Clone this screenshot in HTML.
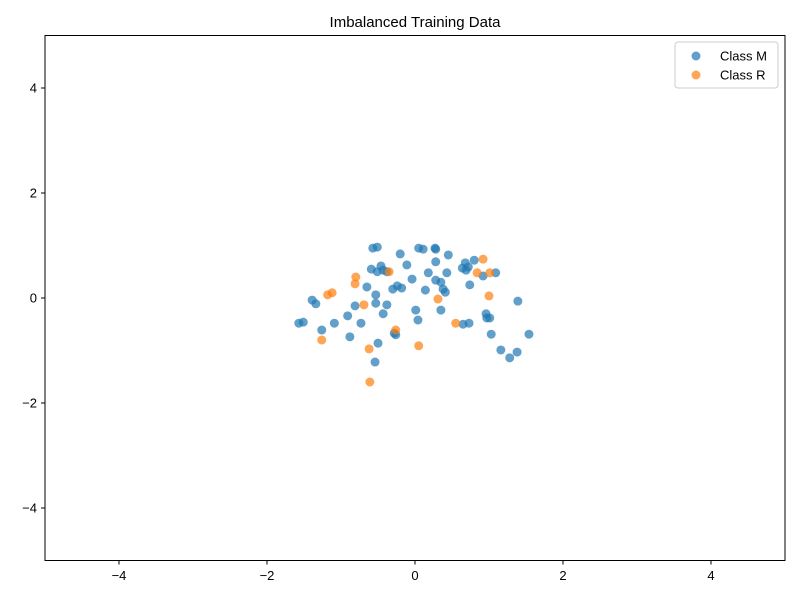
<!DOCTYPE html>
<html><head><meta charset="utf-8"><style>
body{margin:0;background:#fff;font-family:"Liberation Sans",sans-serif}
</style></head><body>
<svg id="chart" width="800" height="600" xmlns="http://www.w3.org/2000/svg">
<rect width="800" height="600" fill="#fff"/>
<text x="415" y="27" text-anchor="middle" font-size="15">Imbalanced Training Data</text>
<g id="marks"></g>
<rect x="45" y="35.5" width="740" height="525" fill="none" stroke="#000" stroke-width="1"/>
<g id="axes" font-size="13"></g>
<g>
<rect x="675" y="42" width="103" height="46" fill="#fff" fill-opacity="0.8" stroke="#ccc" rx="3"/>
<circle cx="696" cy="56" r="4.5" fill="#1f77b4" fill-opacity="0.7"/>
<text x="720" y="60.5" font-size="13">Class M</text>
<circle cx="696" cy="75" r="4.5" fill="#ff7f0e" fill-opacity="0.7"/>
<text x="720" y="79.5" font-size="13">Class R</text>
</g>
</svg>
<script>
const classMx=[-0.57,-0.51,-0.20,-0.11,-0.46,-0.43,-0.59,-0.38,-0.51,-0.04,-0.65,-0.24,-0.18,-0.30,-0.53,-0.81,-0.53,-0.38,-0.73,-0.88,-0.54,-0.43,-0.28,0.01,0.04,0.14,0.05,0.11,0.27,0.28,0.45,0.28,0.18,0.43,0.28,0.35,0.38,0.41,0.64,0.68,0.72,0.69,0.80,0.92,1.09,0.74,0.96,0.97,1.01,0.73,0.65,1.03,1.54,1.39,1.16,1.28,1.38,-1.57,-1.51,-1.39,-1.34,-1.26,-1.09,-0.91,-0.50,0.35,-0.26];
const classMy=[0.95,0.97,0.84,0.63,0.61,0.53,0.55,0.50,0.50,0.36,0.21,0.23,0.19,0.17,0.06,-0.15,-0.10,-0.13,-0.48,-0.74,-1.22,-0.30,-0.67,-0.23,-0.42,0.15,0.95,0.93,0.95,0.93,0.82,0.69,0.48,0.48,0.34,0.30,0.17,0.11,0.57,0.67,0.59,0.53,0.72,0.42,0.48,0.25,-0.30,-0.38,-0.38,-0.48,-0.50,-0.69,-0.69,-0.06,-0.99,-1.14,-1.03,-0.48,-0.46,-0.04,-0.11,-0.61,-0.48,-0.34,-0.86,-0.23,-0.70];
const classRx=[-0.80,-0.81,-1.18,-1.12,-1.26,-0.69,-0.35,-0.26,-0.62,-0.61,0.05,0.31,0.55,0.84,0.92,1.01,1.00];
const classRy=[0.40,0.27,0.06,0.10,-0.80,-0.13,0.50,-0.61,-0.97,-1.60,-0.91,-0.02,-0.48,0.48,0.74,0.48,0.04];
const xTicks=[-4,-2,0,2,4];
const yTicks=[-4,-2,0,2,4];
const NS="http://www.w3.org/2000/svg";
function sx(v){return 45+(v+5)/10*740;}
function sy(v){return 560.5-(v+5)/10*525;}
const marks=document.getElementById('marks');
function drawSeries(xs,ys,color,name){
  for(let i=0;i<xs.length;i++){
    const c=document.createElementNS(NS,'circle');
    c.setAttribute('cx',sx(xs[i]));c.setAttribute('cy',sy(ys[i]));c.setAttribute('r',4.5);
    c.setAttribute('fill',color);c.setAttribute('fill-opacity',0.7);
    
    
    marks.appendChild(c);
  }
}
drawSeries(classMx,classMy,'#1f77b4','class-m-point');
drawSeries(classRx,classRy,'#ff7f0e','class-r-point');
const axes=document.getElementById('axes');
xTicks.forEach(t=>{
  const l=document.createElementNS(NS,'line');
  l.setAttribute('x1',sx(t));l.setAttribute('x2',sx(t));l.setAttribute('y1',560.5);l.setAttribute('y2',564.5);l.setAttribute('stroke','#000');
  
  
  axes.appendChild(l);
  const tx=document.createElementNS(NS,'text');
  tx.setAttribute('x',sx(t));tx.setAttribute('y',580);tx.setAttribute('text-anchor','middle');
  tx.textContent=(t<0?'\u2212'+(-t):t);
  
  
  axes.appendChild(tx);
});
yTicks.forEach(t=>{
  const l=document.createElementNS(NS,'line');
  l.setAttribute('x1',41);l.setAttribute('x2',45);l.setAttribute('y1',sy(t));l.setAttribute('y2',sy(t));l.setAttribute('stroke','#000');
  
  
  axes.appendChild(l);
  const tx=document.createElementNS(NS,'text');
  tx.setAttribute('x',37);tx.setAttribute('y',sy(t)+4.5);tx.setAttribute('text-anchor','end');
  tx.textContent=(t<0?'\u2212'+(-t):t);
  
  
  axes.appendChild(tx);
});
</script>
</body></html>
